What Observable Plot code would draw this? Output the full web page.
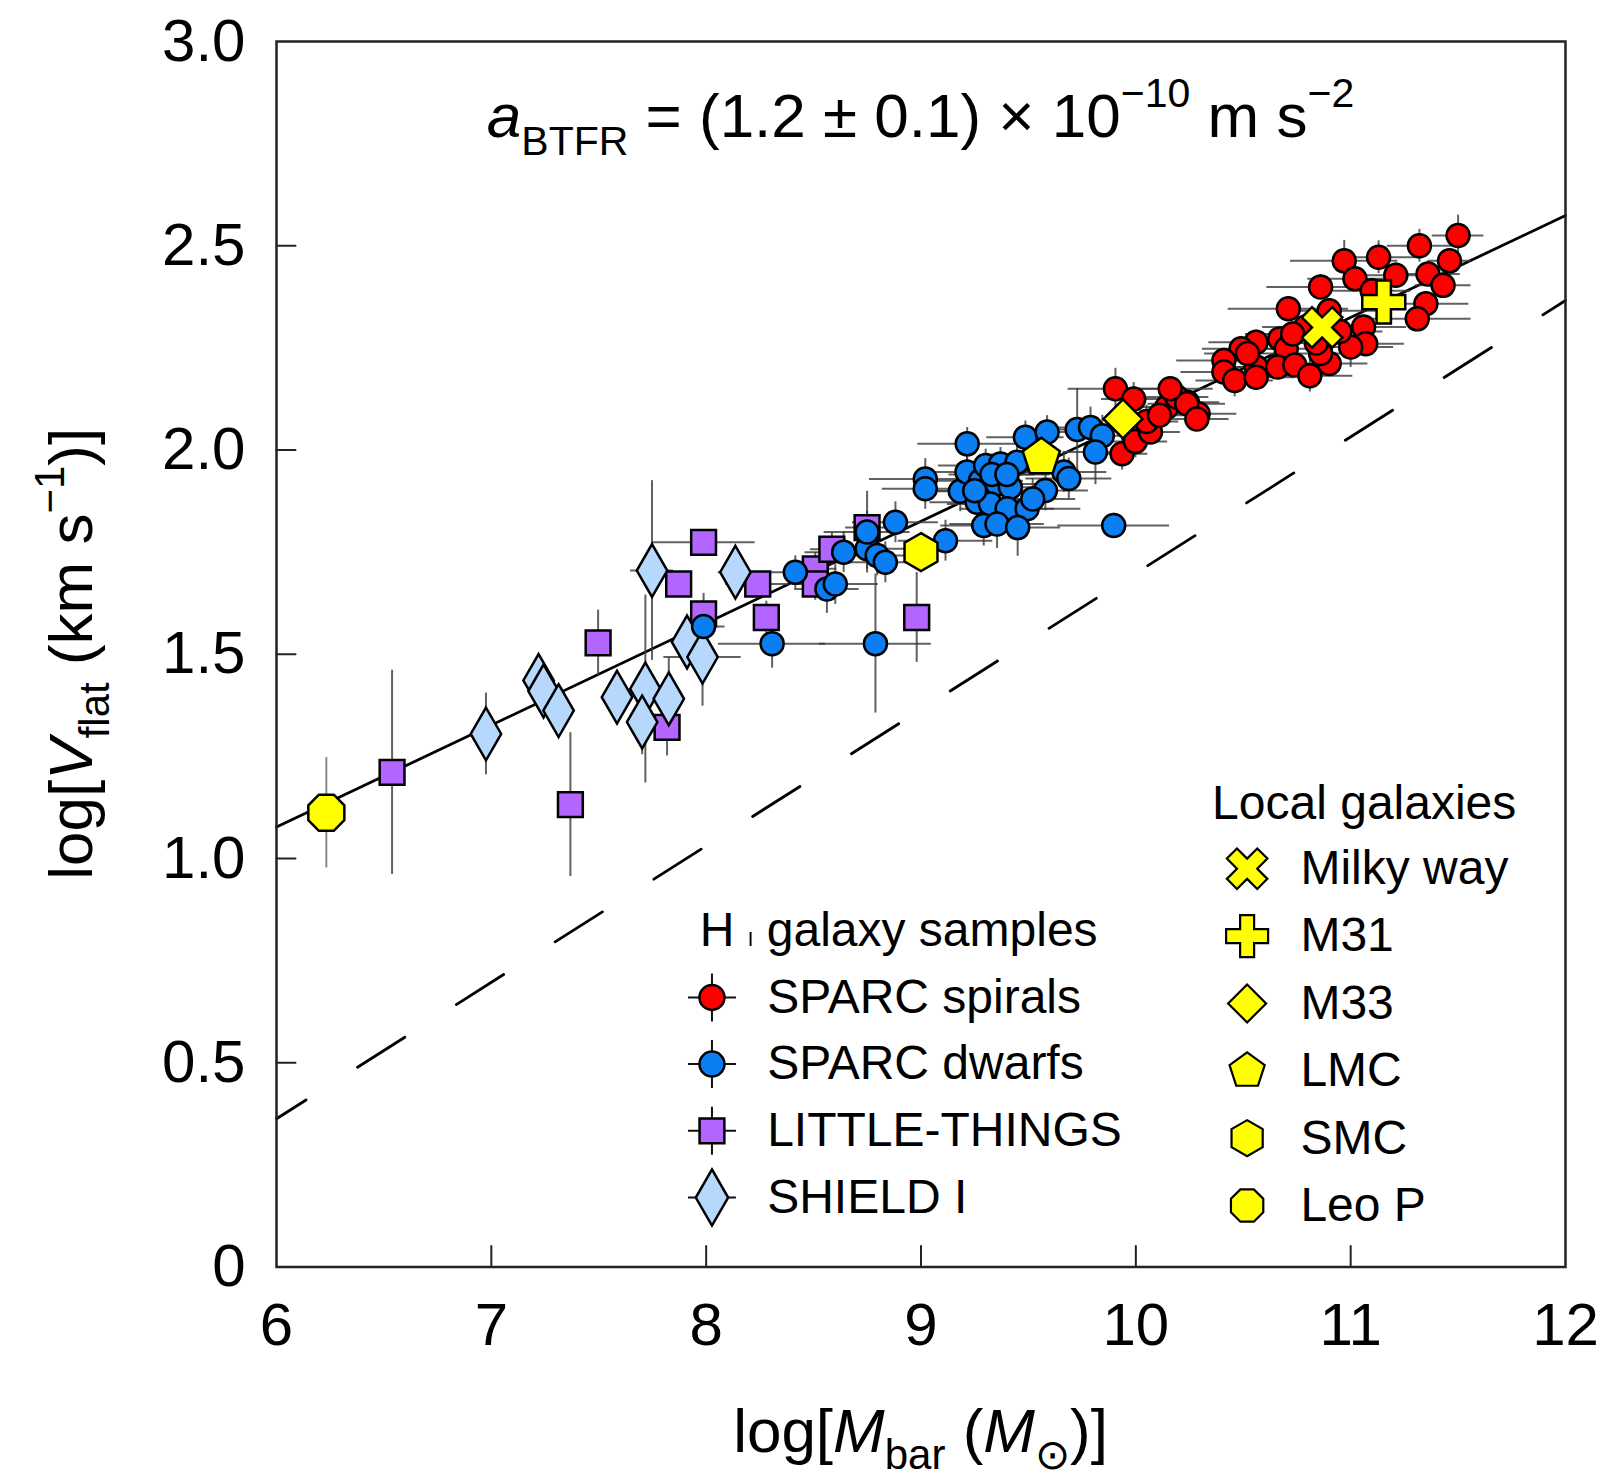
<!DOCTYPE html>
<html>
<head>
<meta charset="utf-8">
<script src="https://cdn.jsdelivr.net/npm/d3@7"></script>
<script src="https://cdn.jsdelivr.net/npm/@observablehq/plot@0.6"></script>
<style>
  html, body { margin: 0; padding: 0; background: #fff; }
  #chart { width: 1604px; height: 1479px; }
</style>
</head>
<body>
<div id="chart"></div>
<script>
// ---------------- DATA ----------------
const xTicks = [6, 7, 8, 9, 10, 11, 12];
const xTickLabels = ["6", "7", "8", "9", "10", "11", "12"];
const yTicks = [0, 0.5, 1, 1.5, 2, 2.5, 3];
const yTickLabels = ["0", "0.5", "1.0", "1.5", "2.0", "2.5", "3.0"];

// [log Mbar, log Vflat, err log Mbar, err log Vflat]
const sparcSpirals = [
  [11.50, 2.525, 0.12, 0.05], [11.32, 2.500, 0.15, 0.04], [11.13, 2.472, 0.20, 0.04],
  [10.97, 2.463, 0.25, 0.05], [11.46, 2.463, 0.10, 0.03], [11.02, 2.419, 0.22, 0.03],
  [11.21, 2.428, 0.18, 0.03], [11.36, 2.431, 0.15, 0.03], [11.43, 2.403, 0.13, 0.03],
  [10.86, 2.399, 0.25, 0.03], [11.35, 2.358, 0.20, 0.03], [10.71, 2.346, 0.28, 0.03],
  [11.31, 2.321, 0.25, 0.03], [11.06, 2.301, 0.20, 0.03], [11.07, 2.260, 0.18, 0.03],
  [11.00, 2.252, 0.20, 0.05], [10.90, 2.341, 0.22, 0.03], [10.79, 2.301, 0.20, 0.03],
  [10.56, 2.264, 0.22, 0.03], [10.67, 2.272, 0.20, 0.03], [10.70, 2.248, 0.20, 0.03],
  [10.49, 2.248, 0.18, 0.03], [10.41, 2.219, 0.22, 0.03], [10.41, 2.191, 0.20, 0.03],
  [10.46, 2.170, 0.18, 0.04], [10.56, 2.203, 0.20, 0.03], [10.56, 2.178, 0.18, 0.03],
  [10.66, 2.203, 0.20, 0.03], [10.74, 2.208, 0.18, 0.03], [10.81, 2.182, 0.20, 0.04],
  [10.90, 2.212, 0.18, 0.03], [10.86, 2.236, 0.20, 0.03], [10.84, 2.262, 0.20, 0.03],
  [10.73, 2.284, 0.22, 0.03], [10.52, 2.236, 0.20, 0.03], [11.10, 2.390, 0.18, 0.03],
  [10.95, 2.290, 0.20, 0.03], [10.24, 2.117, 0.15, 0.03], [10.29, 2.089, 0.18, 0.03],
  [9.905, 2.150, 0.22, 0.05], [9.99, 2.125, 0.15, 0.04], [9.936, 1.991, 0.12, 0.04],
  [9.998, 2.021, 0.15, 0.04], [10.068, 2.044, 0.14, 0.03], [10.145, 2.105, 0.16, 0.03],
  [10.19, 2.130, 0.15, 0.03], [10.237, 2.113, 0.18, 0.03], [10.284, 2.076, 0.15, 0.03],
  [10.16, 2.150, 0.20, 0.03], [10.05, 2.070, 0.15, 0.04], [10.11, 2.085, 0.14, 0.03]
];

const sparcDwarfs = [
  [7.988, 1.568, 0.10, 0.05], [8.307, 1.526, 0.25, 0.06], [8.788, 1.526, 0.26, 0.17],
  [8.415, 1.701, 0.15, 0.04], [8.562, 1.660, 0.15, 0.06], [8.601, 1.672, 0.20, 0.05],
  [8.640, 1.750, 0.18, 0.05], [8.749, 1.758, 0.20, 0.05], [8.749, 1.799, 0.20, 0.10],
  [8.796, 1.742, 0.22, 0.05], [8.834, 1.725, 0.20, 0.05], [8.881, 1.823, 0.20, 0.05],
  [9.114, 1.778, 0.22, 0.05], [9.020, 1.929, 0.26, 0.05], [9.020, 1.905, 0.20, 0.05],
  [9.183, 1.899, 0.22, 0.05], [9.215, 2.015, 0.23, 0.04], [9.214, 1.946, 0.20, 0.04],
  [9.277, 1.925, 0.20, 0.05], [9.301, 1.962, 0.22, 0.04], [9.370, 1.966, 0.20, 0.04],
  [9.354, 1.917, 0.20, 0.05], [9.416, 1.909, 0.22, 0.05], [9.447, 1.970, 0.18, 0.05],
  [9.486, 2.031, 0.18, 0.04], [9.587, 2.044, 0.15, 0.04], [9.261, 1.872, 0.22, 0.05],
  [9.323, 1.868, 0.20, 0.05], [9.401, 1.856, 0.22, 0.05], [9.494, 1.856, 0.25, 0.05],
  [9.579, 1.901, 0.20, 0.05], [9.665, 1.946, 0.20, 0.05], [9.688, 1.930, 0.20, 0.05],
  [9.292, 1.815, 0.20, 0.05], [9.354, 1.819, 0.22, 0.06], [9.450, 1.810, 0.20, 0.07],
  [9.727, 2.050, 0.15, 0.10], [9.789, 2.055, 0.15, 0.05], [9.844, 2.035, 0.15, 0.05],
  [9.812, 1.995, 0.15, 0.08], [9.897, 1.815, 0.26, 0.03], [9.330, 1.940, 0.20, 0.05],
  [9.400, 1.940, 0.20, 0.05], [9.250, 1.900, 0.20, 0.05], [9.520, 1.880, 0.20, 0.05]
];

const littleThings = [
  [6.538, 1.211, 0.05, 0.25], [7.368, 1.132, 0.05, 0.176], [7.497, 1.528, 0.04, 0.08],
  [7.818, 1.321, 0.04, 0.07], [7.872, 1.672, 0.04, 0.03], [7.988, 1.774, 0.24, 0.03],
  [7.988, 1.599, 0.05, 0.05], [8.240, 1.672, 0.15, 0.03], [8.280, 1.590, 0.05, 0.04],
  [8.508, 1.709, 0.10, 0.04], [8.508, 1.672, 0.10, 0.04], [8.585, 1.757, 0.10, 0.04],
  [8.749, 1.810, 0.10, 0.04], [8.980, 1.590, 0.05, 0.11]
];

const shield = [
  [6.975, 1.305, 0.05, 0.10], [7.220, 1.436, 0.05, 0.05], [7.243, 1.410, 0.05, 0.05],
  [7.313, 1.362, 0.05, 0.05], [7.585, 1.395, 0.05, 0.05], [7.717, 1.415, 0.05, 0.23],
  [7.702, 1.334, 0.05, 0.08], [7.826, 1.391, 0.05, 0.10], [7.748, 1.705, 0.10, 0.22],
  [8.136, 1.701, 0.08, 0.05], [7.911, 1.530, 0.05, 0.05], [7.983, 1.493, 0.18, 0.12]
];

const localNames = ["Milky way", "M31", "M33", "LMC", "SMC", "Leo P"];
const localX = [10.867, 11.154, 9.940, 9.560, 9.000, 6.232];
const localY = [2.300, 2.362, 2.076, 1.982, 1.750, 1.112];
const localYErr = [0, 0, 0, 0, 0, 0.135];

const btfrFit = [[6, 1.077], [12, 2.574]];
const dashedRelation = [[6, 0.363], [12, 2.366]];

const sampleLabels = ["SPARC spirals", "SPARC dwarfs", "LITTLE-THINGS", "SHIELD I"];

// ---------------- STYLE ----------------
const FONT = "'Liberation Sans', Arial, Helvetica, sans-serif";
const RED = "#ff0000", BLUE = "#0b7ef2", PURPLE = "#b266ff", LIGHTBLUE = "#b5d8fc", YELLOW = "#ffff00";
const ERR = "#3a3a3a";

function polySymbol(n, startDeg) {
  return { draw(context, size) {
    const r = Math.sqrt(size / Math.PI);
    for (let k = 0; k < n; ++k) {
      const a = (startDeg + 360 * k / n) * Math.PI / 180;
      const px = r * Math.cos(a), py = r * Math.sin(a);
      if (k === 0) context.moveTo(px, py); else context.lineTo(px, py);
    }
    context.closePath();
  }};
}
function crossPoints(r) {
  const a = r / 3;
  return [[-r,-a],[-a,-a],[-a,-r],[a,-r],[a,-a],[r,-a],[r,a],[a,a],[a,r],[-a,r],[-a,a],[-r,a]];
}
function crossSymbol(angleDeg) {
  return { draw(context, size) {
    const r = Math.sqrt(size / Math.PI);
    const t = angleDeg * Math.PI / 180, c = Math.cos(t), s = Math.sin(t);
    crossPoints(r).forEach(([px, py], k) => {
      const qx = px * c - py * s, qy = px * s + py * c;
      if (k === 0) context.moveTo(qx, qy); else context.lineTo(qx, qy);
    });
    context.closePath();
  }};
}
const octagon = polySymbol(8, 22.5);
const hexagon = polySymbol(6, -90);
const pentagon = polySymbol(5, -90);
const rhombus = polySymbol(4, -90);
const plusShape = crossSymbol(0);
const timesShape = crossSymbol(45);
const errCross = { draw(context, size) {
  const r = Math.sqrt(size / Math.PI);
  context.moveTo(-r, 0); context.lineTo(r, 0);
  context.moveTo(0, -r); context.lineTo(0, r);
}};
const tickShape = { draw(context, l) { context.moveTo(0, 0); context.lineTo(0, -l); } };

const localSymbols = [timesShape, plusShape, rhombus, pentagon, hexagon, octagon];
const localR = [21.5, 21.5, 19.5, 19.5, 19, 19.5];
const localLegendR = [21.5, 21, 19, 18.5, 18, 17.5];

const sampleStyles = [
  { symbol: "circle", fill: RED, r: 12.5 },
  { symbol: "circle", fill: BLUE, r: 12.5 },
  { symbol: "square", fill: PURPLE, r: 14 },
  { symbol: "diamond", fill: LIGHTBLUE, r: 17 }
];

// legend layout (data space anchors)
const L1 = { headerX: 7.973, headerY: 0.824, markX: 8.027, textX: 8.284, y0: 0.660, step: 0.1633 };
const L2 = { headerX: 10.355, headerY: 1.134, markX: 10.518, textX: 10.766, y0: 0.975, step: 0.1649 };

function errorMarks(data) {
  return [
    Plot.ruleY(data, { y: d => d[1], x1: d => d[0] - d[2], x2: d => d[0] + d[2], stroke: ERR, strokeWidth: 2, strokeOpacity: 0.8 }),
    Plot.ruleX(data, { x: d => d[0], y1: d => d[1] - d[3], y2: d => d[1] + d[3], stroke: ERR, strokeWidth: 2, strokeOpacity: 0.8 })
  ];
}
function points(data, symbol, fill, r) {
  return Plot.dot(data, { x: d => d[0], y: d => d[1], symbol, r, fill, stroke: "#000", strokeWidth: 2.5 });
}

const localIdx = localNames.map((_, i) => i);

const marks = [
  Plot.line(dashedRelation, { x: d => d[0], y: d => d[1], stroke: "#000", strokeWidth: 2.8, strokeDasharray: "56,61", strokeDashoffset: 21 }),
  Plot.line(btfrFit, { x: d => d[0], y: d => d[1], stroke: "#000", strokeWidth: 2.8 }),
  ...errorMarks(littleThings),
  ...errorMarks(shield),
  ...errorMarks(sparcSpirals),
  ...errorMarks(sparcDwarfs),
  Plot.ruleX(localIdx.filter(i => localYErr[i] > 0), { x: i => localX[i], y1: i => localY[i] - localYErr[i], y2: i => localY[i] + localYErr[i], stroke: ERR, strokeWidth: 2, strokeOpacity: 0.6 }),
  points(littleThings, "square", PURPLE, 14),
  points(shield, "diamond", LIGHTBLUE, 16),
  points(sparcSpirals, "circle", RED, 11.5),
  points(sparcDwarfs, "circle", BLUE, 11.5),
  ...localIdx.map(i => Plot.dot([i], { x: j => localX[j], y: j => localY[j], symbol: localSymbols[i], r: localR[i], fill: YELLOW, stroke: "#000", strokeWidth: 2.5 })),
  // legend 1
  Plot.dot(sampleLabels, { x: L1.markX, y: (d, i) => L1.y0 - i * L1.step, symbol: errCross, r: 24, fill: "none", stroke: "#111", strokeWidth: 2 }),
  ...sampleLabels.map((lab, i) => Plot.dot([lab], { x: L1.markX, y: L1.y0 - i * L1.step, symbol: sampleStyles[i].symbol, r: sampleStyles[i].r, fill: sampleStyles[i].fill, stroke: "#000", strokeWidth: 2.5 })),
  Plot.text(sampleLabels, { x: L1.textX, y: (d, i) => L1.y0 - i * L1.step, text: d => d, textAnchor: "start", lineAnchor: "middle", fontSize: 48, fill: "#000" }),
  // legend 2
  Plot.text(["Local galaxies"], { x: L2.headerX, y: L2.headerY, text: d => d, textAnchor: "start", lineAnchor: "middle", fontSize: 48, fill: "#000" }),
  ...localIdx.map(i => Plot.dot([i], { x: L2.markX, y: L2.y0 - i * L2.step, symbol: localSymbols[i], r: localLegendR[i], fill: YELLOW, stroke: "#000", strokeWidth: 2.2 })),
  Plot.text(localNames, { x: L2.textX, y: (d, i) => L2.y0 - i * L2.step, text: d => d, textAnchor: "start", lineAnchor: "middle", fontSize: 48, fill: "#000" }),
  // frame, ticks, axes
  Plot.frame({ stroke: "#222", strokeWidth: 2.5 }),
  Plot.vector(xTicks.slice(1, -1), { x: d => d, y: yTicks[0], length: 21, rotate: 0, anchor: "start", shape: tickShape, stroke: "#222", strokeWidth: 2 }),
  Plot.vector(yTicks.slice(1, -1), { x: xTicks[0], y: d => d, length: 19, rotate: 90, anchor: "start", shape: tickShape, stroke: "#222", strokeWidth: 2 }),
  Plot.axisX(xTicks, { tickSize: 0, tickPadding: 35, fontSize: 60, fill: "#000", tickFormat: d => xTickLabels[xTicks.indexOf(d)], label: null }),
  Plot.axisY(yTicks, { tickSize: 0, tickPadding: 31, fontSize: 60, fill: "#000", tickFormat: d => yTickLabels[yTicks.indexOf(d)], label: null })
];

const chart = Plot.plot({
  width: 1604,
  height: 1479,
  marginLeft: 276,
  marginRight: 39,
  marginTop: 41,
  marginBottom: 212.5,
  x: { domain: [6, 12] },
  y: { domain: [0, 3] },
  style: { fontFamily: FONT, fontSize: "48px", color: "#000", background: "#fff", overflow: "visible" },
  marks
});
document.getElementById("chart").appendChild(chart);

// ---------------- rich text (sub/superscripts) ----------------
const svg = d3.select(chart);
const xs = chart.scale("x"), ys = chart.scale("y");
const cx = (xs.range[0] + xs.range[1]) / 2;
const cy = (ys.range[0] + ys.range[1]) / 2;

function richText(x, y, parts, o) {
  const t = svg.append("text")
    .attr("x", x).attr("y", y)
    .attr("font-family", FONT).attr("font-size", o.size)
    .attr("text-anchor", o.anchor || "start")
    .attr("fill", "#000")
    .style("white-space", "pre");
  if (o.rotate) t.attr("transform", `rotate(${o.rotate},${x},${y})`);
  let shift = 0;
  for (const p of parts) {
    const s = t.append("tspan").text(p.text);
    const target = p.sub ? o.subShift : p.sup ? -o.supShift : 0;
    s.attr("dy", target - shift);
    shift = target;
    if (p.sub || p.sup) s.attr("font-size", o.small);
    if (p.size) s.attr("font-size", p.size);
    if (p.italic) s.attr("font-style", "italic");
  }
  return t;
}

// BTFR annotation
richText(cx, ys.apply(2.765), [
  { text: "a", italic: true },
  { text: "BTFR", sub: true },
  { text: " = (1.2 ± 0.1) × 10" },
  { text: "−10", sup: true },
  { text: " m s" },
  { text: "−2", sup: true }
], { size: 62, small: 41, subShift: 18, supShift: 30, anchor: "middle" });

// x-axis label
richText(cx, ys.range[0] + 185, [
  { text: "log[" },
  { text: "M", italic: true },
  { text: "bar", sub: true },
  { text: " (" },
  { text: "M", italic: true },
  { text: "⊙", sub: true },
  { text: ")]" }
], { size: 62, small: 42, subShift: 17, supShift: 28, anchor: "middle" });

// y-axis label
richText(92, cy, [
  { text: "log[" },
  { text: "V", italic: true },
  { text: "flat", sub: true },
  { text: " (km s" },
  { text: "−1", sup: true },
  { text: ")]" }
], { size: 62, small: 42, subShift: 17, supShift: 28, anchor: "middle", rotate: -90 });

// legend 1 header: H I galaxy samples
richText(xs.apply(L1.headerX), ys.apply(L1.headerY) + 16, [
  { text: "H " },
  { text: "I", size: 20 },
  { text: " galaxy samples" }
], { size: 48, small: 30, subShift: 0, supShift: 0 });
</script>
</body>
</html>
